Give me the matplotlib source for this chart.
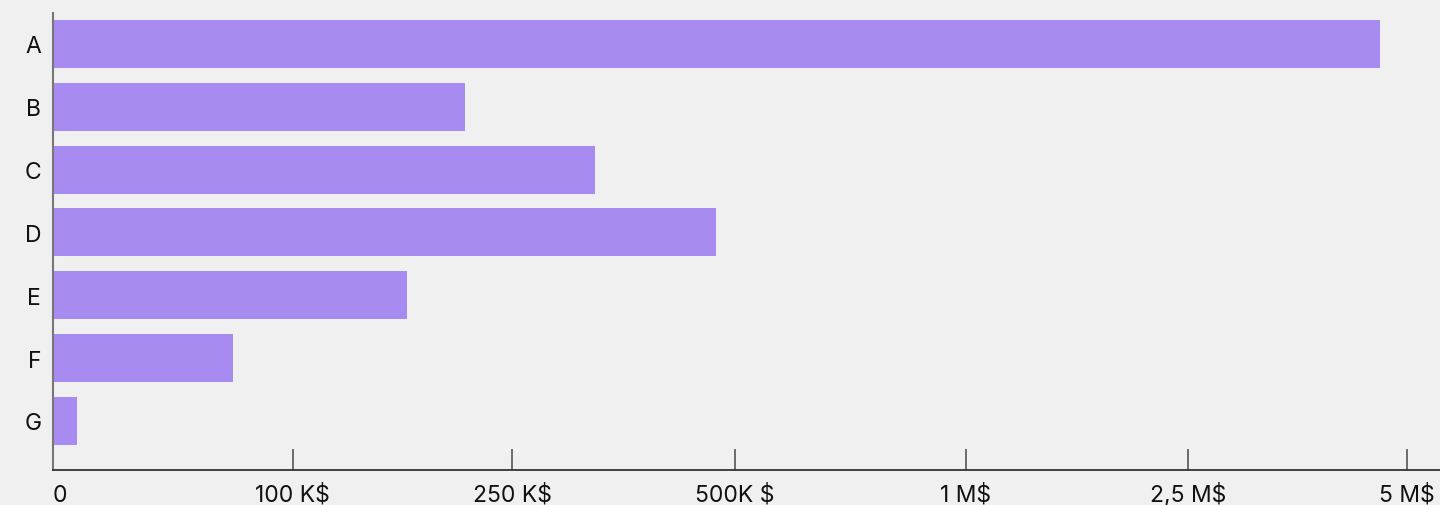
import numpy as np
import matplotlib
matplotlib.use("Agg")
import matplotlib.pyplot as plt

plt.rcParams['font.family'] = ['Inter', 'DejaVu Sans']

categories = ['A', 'B', 'C', 'D', 'E', 'F', 'G']
values = [4690000, 218000, 343000, 479000, 178000, 75000, 10000]

tick_vals = [0, 100000, 250000, 500000, 1000000, 2500000, 5000000]
tick_labels = ['0', '100 K$', '250 K$', '500K $', '1 M$', '2,5 M$', '5 M$']

# piecewise scale: each break gets its own slot on the axis
scale_vals = tick_vals + [7500000]
scale_pos = [0, 239.7, 459.3, 681.7, 912.7, 1134.7, 1354.3, 1573.9]

def fwd(v):
    return np.interp(v, scale_vals, scale_pos)

def inv(p):
    return np.interp(p, scale_pos, scale_vals)

bg = '#f0f0f0'
bar_color = '#a78bf0'

fig = plt.figure(figsize=(14.4, 5.06), dpi=100, facecolor=bg)
ax = fig.add_axes([53 / 1440, 1 - 471 / 506, 1 - 53 / 1440, (471 - 14) / 506])
ax.set_facecolor(bg)

ax.set_xscale('function', functions=(fwd, inv))
y = np.arange(len(categories))
ax.barh(y, values, height=0.764, color=bar_color)

ax.set_xlim(0, inv(1387))
ax.set_ylim(6.78, -0.493)

ax.set_yticks(y)
ax.set_yticklabels(categories, fontsize=16.5, color='#111111')
ax.tick_params(axis='y', length=0, pad=8.5)

ax.set_xticks(tick_vals)
ax.set_xticklabels(tick_labels, fontsize=16.5, color='#111111')
ax.xaxis.set_minor_locator(matplotlib.ticker.NullLocator())
ax.tick_params(axis='x', direction='in', length=15, width=1.2, color='#555555', pad=22)
for lbl in ax.get_xticklabels():
    lbl.set_verticalalignment('baseline')
ax.get_xticklabels()[0].set_horizontalalignment('left')

for s in ['top', 'right']:
    ax.spines[s].set_visible(False)
ax.spines['left'].set_color('#777777')
ax.spines['left'].set_linewidth(1.5)
ax.spines['bottom'].set_color('#333333')
ax.spines['bottom'].set_linewidth(1.3)

fig.savefig('out.png', dpi=100, facecolor=bg)
